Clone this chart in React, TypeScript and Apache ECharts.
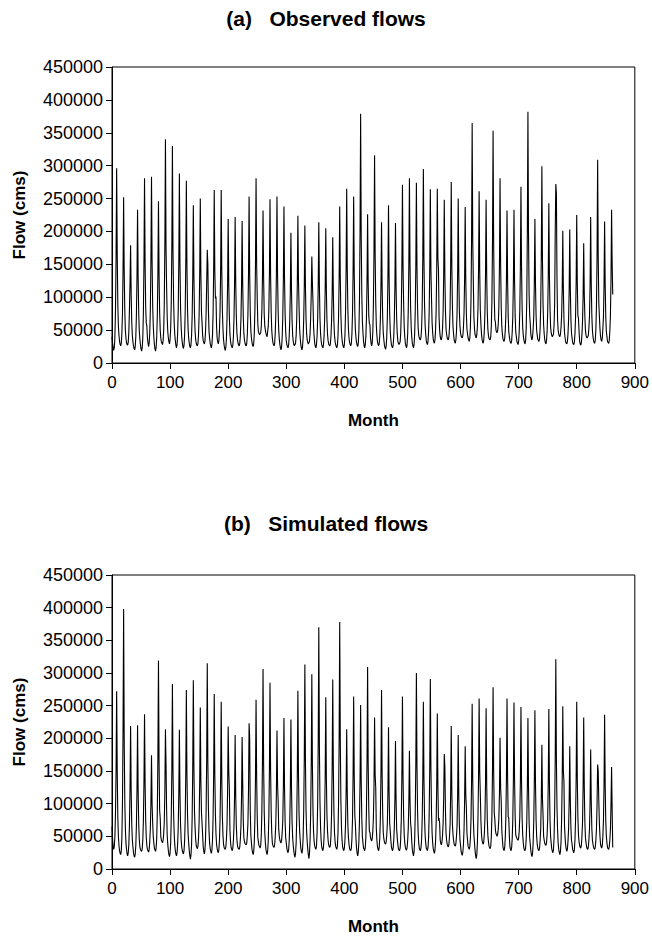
import React, { useEffect, useRef } from "react";
import * as echarts from "echarts";

// Monthly flows, thousands of cms (one row = one year of 12 months)
const observedK: number[] = [
  40,30,23,19,24,40,80,160,296,165,90,56,
  42,33,28,26,30,45,75,140,252,140,80,50,
  38,31,28,27,32,48,80,120,179,105,62,42,
  32,26,22,20,25,40,72,130,233,130,75,48,
  36,27,21,18,23,38,75,150,281,150,85,61,
  56,38,30,25,30,46,80,155,283,155,88,58,
  40,28,21,18,24,40,72,135,246,136,78,50,
  38,32,30,28,34,50,90,180,340,175,116,70,
  48,38,32,29,36,52,90,175,330,170,96,62,
  44,34,27,23,28,44,80,155,288,150,85,56,
  40,31,25,22,27,42,78,150,277,148,82,52,
  38,30,25,23,28,42,72,130,240,130,74,48,
  36,30,27,26,30,44,74,135,250,135,78,61,
  42,34,31,29,33,48,75,120,172,150,80,48,
  38,30,26,23,28,42,75,140,263,140,98,101,
  55,38,32,29,34,50,78,140,263,140,80,52,
  36,27,22,19,24,38,68,120,219,120,70,45,
  34,28,25,23,27,40,68,120,222,122,72,46,
  36,30,27,26,30,42,68,118,216,118,70,45,
  35,30,27,26,30,44,74,135,253,135,78,50,
  38,31,27,25,30,46,80,150,281,150,99,60,
  48,45,43,43,46,56,80,130,232,130,75,56,
  50,45,42,40,48,56,80,135,249,135,78,50,
  38,31,28,26,30,45,75,135,253,135,78,50,
  36,28,23,20,25,40,70,128,238,128,74,48,
  34,28,25,23,27,40,64,110,198,110,64,42,
  33,28,26,26,30,42,68,120,224,125,86,52,
  38,28,23,20,25,38,66,115,209,115,68,45,
  35,31,29,29,33,45,70,105,162,121,92,55,
  40,30,25,23,28,40,66,118,214,118,68,45,
  34,28,25,23,27,40,65,112,205,112,66,44,
  34,29,27,26,30,42,64,106,191,106,62,42,
  33,28,25,23,27,40,70,128,238,128,74,48,
  36,29,25,23,28,42,76,142,265,142,82,52,
  38,31,28,26,30,44,75,136,253,136,78,50,
  38,31,27,25,30,48,95,200,379,195,105,64,
  46,33,26,23,28,40,68,122,226,122,72,60,
  58,38,30,26,31,48,88,170,316,165,92,58,
  42,32,28,26,30,42,66,116,214,116,68,45,
  35,27,23,21,26,40,70,130,240,130,75,48,
  36,28,25,23,27,40,66,116,213,116,68,45,
  34,30,28,28,32,46,78,145,271,145,91,56,
  40,30,26,23,28,44,80,150,281,150,86,55,
  40,30,26,23,28,44,78,146,274,146,84,54,
  42,38,36,35,40,54,86,158,295,158,90,58,
  44,34,30,28,33,48,78,142,264,142,99,62,
  46,36,32,30,35,50,80,142,265,160,142,70,
  50,40,36,35,40,52,78,135,248,135,80,52,
  44,38,36,35,40,54,82,148,275,148,85,55,
  44,35,32,30,35,48,76,135,250,135,78,56,
  46,41,39,38,42,54,76,128,237,128,75,52,
  44,38,35,33,38,55,96,190,365,185,122,70,
  52,43,40,38,43,56,82,142,261,140,81,60,
  45,36,32,30,35,50,78,135,248,135,78,52,
  42,37,36,35,40,56,94,185,353,180,100,66,
  62,50,47,46,50,60,86,150,281,150,86,56,
  44,37,34,33,37,50,72,126,232,126,72,48,
  40,34,31,30,34,48,72,126,233,126,72,48,
  40,33,30,28,33,48,80,145,268,145,84,54,
  42,35,31,29,34,52,96,200,382,195,105,73,
  60,44,38,35,40,52,70,120,219,120,73,50,
  42,36,34,33,37,52,86,160,299,158,90,58,
  44,35,31,29,34,48,76,132,243,132,84,55,
  46,42,40,40,44,58,90,200,272,258,130,66,
  50,44,41,40,44,54,72,112,201,112,66,46,
  38,32,30,29,33,45,66,112,203,112,66,45,
  38,31,29,28,32,45,70,122,225,122,72,68,
  48,33,29,27,31,44,64,102,182,104,71,50,
  42,39,38,38,42,54,72,120,222,120,72,50,
  40,34,31,30,35,52,88,165,309,162,92,71,
  52,40,35,33,38,52,70,118,215,118,70,48,
  40,33,31,30,34,48,72,126,233,150,104,
];

const simulatedK: number[] = [
  65,45,34,30,35,50,85,150,272,150,80,50,
  36,28,24,22,28,48,100,210,398,200,105,62,
  40,30,23,20,25,38,66,120,219,120,68,45,
  34,25,20,18,23,36,66,120,220,120,68,45,
  34,30,28,27,31,44,72,130,237,130,75,48,
  36,30,28,26,30,42,62,100,174,100,71,50,
  40,32,29,27,32,48,86,170,319,165,90,78,
  50,44,42,40,44,54,72,118,214,160,90,52,
  38,28,22,19,24,40,78,150,283,150,86,55,
  38,28,23,20,25,38,64,116,213,116,68,45,
  34,28,25,23,28,43,76,145,274,145,84,54,
  40,28,20,15,22,38,80,155,289,155,88,63,
  46,36,33,31,35,48,74,134,247,134,87,70,
  52,34,27,23,29,46,86,168,315,165,92,58,
  40,31,27,24,29,44,78,145,268,145,84,54,
  38,31,27,25,30,44,76,138,256,138,80,52,
  38,33,31,30,34,46,68,120,218,150,124,60,
  42,33,30,28,32,44,66,112,205,112,66,45,
  36,32,31,30,34,46,66,110,202,132,73,48,
  42,39,38,37,40,52,70,120,223,200,90,52,
  40,30,25,22,27,42,76,140,259,140,80,48,
  42,36,34,32,36,52,88,165,306,160,90,56,
  40,30,25,22,28,44,80,152,285,152,88,56,
  40,36,34,33,37,50,70,116,212,130,104,61,
  50,44,41,40,44,56,74,125,231,125,72,48,
  40,32,27,25,29,42,70,124,229,124,72,48,
  36,27,21,18,24,40,78,145,273,145,84,58,
  44,32,27,24,30,48,88,168,313,165,92,58,
  42,30,22,16,24,44,85,160,298,158,88,56,
  42,35,32,30,35,54,98,195,370,190,104,64,
  44,34,30,28,33,48,78,142,263,142,83,58,
  44,37,34,33,37,52,85,155,290,155,88,56,
  42,35,32,30,35,54,100,200,378,195,105,64,
  44,34,30,28,32,44,68,116,214,116,68,48,
  38,31,29,28,32,46,76,142,264,142,82,68,
  46,32,24,20,26,42,74,135,251,135,78,50,
  40,32,30,28,33,48,88,165,309,162,92,58,
  56,48,45,43,47,58,78,126,232,144,124,62,
  44,34,30,28,33,48,80,146,274,146,84,55,
  46,41,39,38,42,52,70,118,217,118,70,58,
  44,34,30,28,32,44,64,106,196,106,62,48,
  38,31,29,28,32,46,76,142,264,142,82,52,
  40,33,30,29,33,44,62,102,181,104,70,61,
  42,30,24,20,26,44,84,160,300,158,90,56,
  40,32,29,28,33,46,76,138,256,138,80,52,
  40,32,30,28,33,48,84,155,291,155,88,56,
  40,31,27,24,29,42,70,128,238,128,74,78,
  70,44,39,37,41,52,70,110,176,156,90,55,
  44,38,35,34,38,50,68,118,219,118,68,53,
  44,38,36,35,39,50,66,112,205,112,66,45,
  36,27,23,21,26,38,60,104,188,114,94,55,
  44,35,32,30,35,48,76,136,253,136,78,52,
  40,28,20,16,22,40,78,140,261,150,116,75,
  54,44,40,38,42,54,78,132,246,132,76,52,
  42,35,33,31,35,50,82,150,278,150,86,76,
  60,54,52,50,54,62,78,116,201,124,104,60,
  46,34,30,28,33,48,78,140,261,140,80,78,
  50,34,30,28,33,48,78,138,255,138,80,52,
  52,47,45,44,47,58,80,134,248,134,78,52,
  40,32,29,28,32,46,72,125,231,125,72,48,
  38,28,22,19,24,40,72,132,243,132,76,50,
  38,32,29,28,32,44,62,106,190,108,83,50,
  44,39,37,36,40,52,76,132,245,132,76,50,
  40,31,27,25,30,48,90,172,321,168,94,60,
  40,30,25,22,27,42,76,136,249,150,134,66,
  48,36,30,27,31,43,62,104,188,104,62,44,
  38,30,27,25,30,45,76,138,256,138,80,52,
  42,36,33,32,36,50,72,126,232,126,72,48,
  40,34,31,30,34,45,62,102,183,104,62,44,
  38,33,31,30,34,45,62,100,160,150,104,70,
  50,38,34,32,36,50,74,128,236,128,73,50,
  40,33,31,30,34,44,60,98,156,90,33,
];

const xTicks = { min: 0, max: 900, interval: 100 };
const yTicks = { min: 0, max: 450000, interval: 50000 };
const panelTitles = ["(a)   Observed flows", "(b)   Simulated flows"];
const xName = "Month";
const yName = "Flow (cms)";

const FONT = "'Liberation Sans', Arial, sans-serif";

export default function App() {
  const ref = useRef<HTMLDivElement>(null);
  useEffect(() => {
    if (!ref.current) return;
    const chart = echarts.init(ref.current, undefined, { renderer: "svg" });
    const toPts = (arr: number[]) => arr.map((v, i) => [i, v * 1000]);
    const grids = [
      { left: 112, top: 67, width: 524, height: 296 },
      { left: 112, top: 575, width: 524, height: 295 },
    ];
    const mkX = (gi: number) => ({
      type: "value",
      gridIndex: gi,
      ...xTicks,
      name: xName,
      nameLocation: "middle",
      nameGap: 49,
      nameTextStyle: { fontFamily: FONT, fontWeight: "bold", fontSize: 17, color: "#000" },
      axisLine: { show: true, lineStyle: { color: "#000", width: 1 } },
      axisTick: { show: true, length: 6, lineStyle: { color: "#000", width: 1 } },
      axisLabel: { fontFamily: FONT, fontSize: 17, color: "#000", margin: 11, formatter: (v: number) => String(v) },
      splitLine: { show: false },
    });
    const mkY = (gi: number) => ({
      type: "value",
      gridIndex: gi,
      ...yTicks,
      name: yName,
      nameLocation: "middle",
      nameRotate: 90,
      nameGap: 84,
      nameTextStyle: { fontFamily: FONT, fontWeight: "bold", fontSize: 17, color: "#000" },
      axisLine: { show: true, lineStyle: { color: "#000", width: 1 } },
      axisTick: { show: true, length: 6, lineStyle: { color: "#000", width: 1 } },
      axisLabel: { fontFamily: FONT, fontSize: 18, color: "#000", margin: 9, formatter: (v: number) => String(v) },
      splitLine: { show: false },
    });
    chart.setOption({
      animation: false,
      backgroundColor: "#fff",
      title: [
        {
          text: panelTitles[0],
          left: "center",
          top: 8,
          padding: 0,
          textStyle: { fontFamily: FONT, fontWeight: "bold", fontSize: 21, color: "#000" },
        },
        {
          text: panelTitles[1],
          left: "center",
          top: 513,
          padding: 0,
          textStyle: { fontFamily: FONT, fontWeight: "bold", fontSize: 21, color: "#000" },
        },
      ],
      grid: grids.map((g) => ({ ...g, show: true, borderColor: "#000", borderWidth: 1, backgroundColor: "transparent" })),
      xAxis: [mkX(0), mkX(1)],
      yAxis: [mkY(0), mkY(1)],
      series: [
        {
          type: "line",
          xAxisIndex: 0,
          yAxisIndex: 0,
          data: toPts(observedK),
          showSymbol: false,
          lineStyle: { color: "#000", width: 1.1 },
          silent: true,
        },
        {
          type: "line",
          xAxisIndex: 1,
          yAxisIndex: 1,
          data: toPts(simulatedK),
          showSymbol: false,
          lineStyle: { color: "#000", width: 1.1 },
          silent: true,
        },
      ],
    });
    return () => chart.dispose();
  }, []);
  return (
    <div
      ref={ref}
      style={{ position: "absolute", left: 0, top: 0, width: 652, height: 936, background: "#fff" }}
    />
  );
}
